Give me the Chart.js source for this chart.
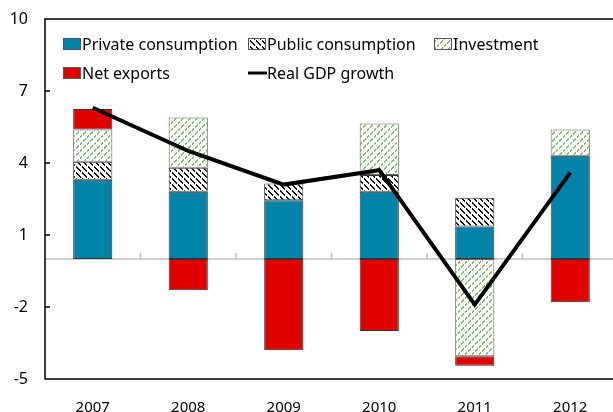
<!DOCTYPE html>
<html>
<head>
<meta charset="utf-8">
<script src="https://cdn.jsdelivr.net/npm/chart.js@4.4.1/dist/chart.umd.min.js"></script>
<style>
  html, body { margin: 0; padding: 0; background: #fff; overflow: hidden; }
  #wrap { width: 620px; height: 412px; }
</style>
</head>
<body>
<div id="wrap"><canvas id="chart" width="620" height="412"></canvas></div>
<script>
// Contributions to real GDP growth, percentage points
const years = ['2007', '2008', '2009', '2010', '2011', '2012'];
const privateCons = [3.3, 2.8, 2.45, 2.8, 1.35, 4.3];
const publicCons = [0.75, 1.0, 0.7, 0.7, 1.2, null];
const investment = [1.35, 2.1, null, 2.15, -4.05, 1.1];
const netExports = [0.85, -1.3, -3.8, -3.0, -0.4, -1.8];
const gdpGrowth = [6.3, 4.5, 3.1, 3.7, -1.9, 3.6];
const yTicks = [-5, -2, 1, 4, 7, 10];

const FONT = '"Noto Sans", "DejaVu Sans", sans-serif';

// Small repeating hatch tiles used as bar fills
function hatch(color, dir, size, thick, gapEvery) {
  const c = document.createElement('canvas');
  c.width = c.height = size;
  const g = c.getContext('2d');
  g.fillStyle = '#ffffff';
  g.fillRect(0, 0, size, size);
  g.fillStyle = color;
  for (let i = 0; i < size; i++) {
    if (gapEvery && i % gapEvery === gapEvery - 1) continue;
    for (let t = 0; t < thick; t++) {
      const y = dir === 'down' ? (i + t) % size : (size - 1 - i + t) % size;
      g.fillRect(i, y, 1, 1);
    }
  }
  return g.createPattern(c, 'repeat');
}

const publicFill = hatch('#111111', 'down', 6, 2, 4);
const investFill = hatch('#7cc069', 'up', 7, 2, 3);
const privateFill = '#0083a8';
const netExportFill = '#e00000';

// Frame, inner y ticks and the zero line with category ticks
const framePlugin = {
  id: 'frame',
  beforeDatasetsDraw(chart) {
    const { ctx, chartArea: a, scales: { x, y } } = chart;
    const y0 = y.getPixelForValue(0);
    ctx.save();
    ctx.strokeStyle = '#c0c0c0';
    ctx.lineWidth = 1.5;
    ctx.beginPath();
    ctx.moveTo(a.left, y0);
    ctx.lineTo(a.right, y0);
    const n = years.length;
    for (let i = 1; i < n; i++) {
      const bx = (x.getPixelForValue(i - 1) + x.getPixelForValue(i)) / 2;
      ctx.moveTo(bx, y0);
      ctx.lineTo(bx, y0 - 6);
    }
    ctx.stroke();
    ctx.restore();
  },
  afterDraw(chart) {
    const { ctx, chartArea: a, scales: { y } } = chart;
    ctx.save();
    ctx.strokeStyle = '#000';
    ctx.lineWidth = 1.5;
    ctx.beginPath();
    ctx.moveTo(a.right, a.top);
    ctx.lineTo(a.left, a.top);
    ctx.lineTo(a.left, a.bottom);
    ctx.lineTo(a.right, a.bottom);
    yTicks.forEach(v => {
      const py = y.getPixelForValue(v);
      ctx.moveTo(a.left, py);
      ctx.lineTo(a.left + 5, py);
    });
    ctx.stroke();
    ctx.restore();
  }
};

// Two-row legend inside the plot area
const legendPlugin = {
  id: 'gridLegend',
  afterDraw(chart) {
    const { ctx } = chart;
    const ds = chart.data.datasets;
    const slots = [
      { i: 0, x: 63, y: 44 },
      { i: 1, x: 248, y: 44 },
      { i: 2, x: 434, y: 44 },
      { i: 3, x: 63, y: 73 },
      { i: 4, x: 248, y: 73 }
    ];
    ctx.save();
    ctx.font = '16px ' + FONT;
    ctx.textBaseline = 'middle';
    ctx.fillStyle = '#000';
    slots.forEach(s => {
      const d = ds[s.i];
      if (d.type === 'line') {
        ctx.strokeStyle = d.borderColor;
        ctx.lineWidth = 3;
        ctx.beginPath();
        ctx.moveTo(s.x, s.y);
        ctx.lineTo(s.x + 19, s.y);
        ctx.stroke();
      } else {
        ctx.fillStyle = d.backgroundColor;
        ctx.fillRect(s.x, s.y - 6, 18, 12);
        ctx.strokeStyle = '#555';
        ctx.lineWidth = 1;
        ctx.strokeRect(s.x + 0.5, s.y - 5.5, 17, 11);
      }
      ctx.fillStyle = '#000';
      ctx.fillText(d.label, s.x + 19, s.y + 1);
    });
    ctx.restore();
  }
};

const barCommon = {
  type: 'bar',
  borderColor: '#333',
  borderWidth: 1,
  borderSkipped: false,
  stack: 'gdp',
  categoryPercentage: 1,
  barPercentage: 0.41
};

new Chart(document.getElementById('chart'), {
  data: {
    labels: years,
    datasets: [
      { ...barCommon, label: 'Private consumption', data: privateCons, backgroundColor: privateFill, order: 2 },
      { ...barCommon, label: 'Public consumption', data: publicCons, backgroundColor: publicFill, order: 2 },
      { ...barCommon, label: 'Investment', data: investment, backgroundColor: investFill, borderColor: '#666', order: 2 },
      { ...barCommon, label: 'Net exports', data: netExports, backgroundColor: netExportFill, order: 2 },
      { type: 'line', label: 'Real GDP growth', data: gdpGrowth, borderColor: '#000', borderWidth: 4,
        pointRadius: 0, tension: 0, fill: false, order: 1 }
    ]
  },
  options: {
    responsive: false,
    devicePixelRatio: 1,
    animation: false,
    layout: { padding: { top: 19, right: 2, left: 0, bottom: 0 } },
    plugins: { legend: { display: false }, tooltip: { enabled: false } },
    scales: {
      x: {
        stacked: true,
        grid: { display: false, drawTicks: false },
        border: { display: false },
        ticks: { padding: 20, color: '#000', font: { family: FONT, size: 15 } },
        afterFit(s) { s.height = 33; }
      },
      y: {
        stacked: true,
        min: -5,
        max: 10,
        afterBuildTicks(s) { s.ticks = yTicks.map(v => ({ value: v })); },
        grid: { display: false, drawTicks: true, tickLength: 17 },
        border: { display: false },
        ticks: { padding: 0, color: '#000', font: { family: FONT, size: 16 } },
        afterFit(s) { s.width = 45; }
      }
    }
  },
  plugins: [framePlugin, legendPlugin]
});
</script>
</body>
</html>
